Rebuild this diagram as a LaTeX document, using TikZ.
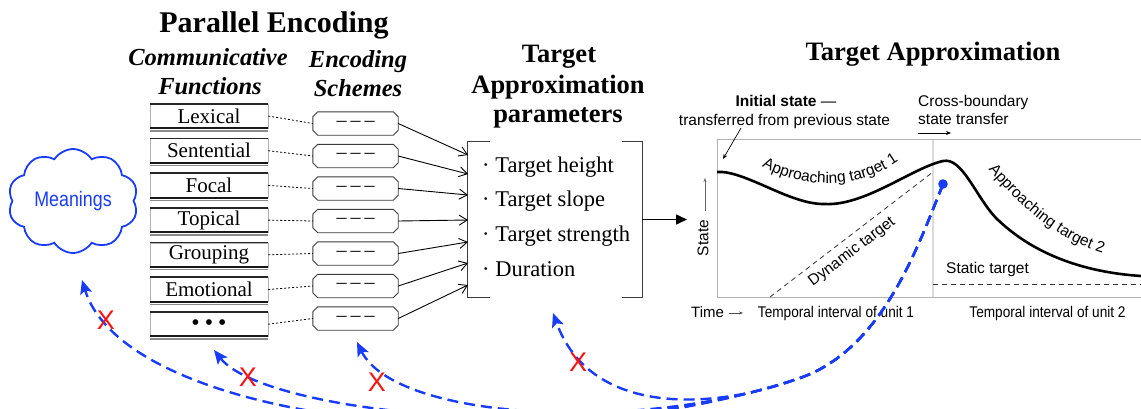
\documentclass[tikz,border=0pt]{standalone}
\usepackage{fontspec}
\setmainfont{Liberation Serif}
\newfontfamily\gsans{Liberation Sans}
\usetikzlibrary{arrows.meta,shapes.symbols,decorations.text}
\newcommand\setfs[1]{\fontsize{#1}{#1}\selectfont}
\definecolor{pblue}{RGB}{25,60,250}
\definecolor{xred}{RGB}{245,20,20}
\definecolor{framegray}{RGB}{178,178,178}
\definecolor{inkgray}{RGB}{60,60,60}
\begin{document}
\begin{tikzpicture}[x=1pt,y=-1pt,
  titlefont/.style={anchor=base,inner sep=0pt,font=\bfseries\setfs{#1}},
  headfont/.style={anchor=base,inner sep=0pt,font=\bfseries\itshape\setfs{24.5}},
  funcbox/.style={rectangle,minimum width=118pt,minimum height=24pt,inner sep=0pt,
    draw=black!30,line width=0.5pt,fill=white,font=\setfs{21}},
  schemebox/.style={rectangle,minimum width=85pt,minimum height=23pt,inner sep=0pt,font=\setfs{20}},
  schemeline/.style={draw=inkgray,line width=0.9pt,fill=white},
  dotline/.style={line width=0.8pt,dash pattern=on 2pt off 2pt},
  feed/.style={line width=0.9pt,-{Straight Barb[length=8pt,width=10pt]}},
  param/.style={anchor=base west,inner sep=0pt,font=\setfs{22.5}},
  glabel/.style={inner sep=0pt,font=\gsans\setfs{15.5}},
  smallarrow/.style={line width=0.7pt,-{Stealth[length=5pt,width=4pt]}},
  bluedash/.style={pblue,line width=2.4pt,dash pattern=on 11pt off 6pt,
    -{Stealth[length=14pt,width=12pt,inset=3pt]}},
  xmark/.style={inner sep=0pt,text=xred,font=\gsans\setfs{27}}]
\useasboundingbox (0,0) rectangle (1141,408);

% ---------- headings ----------
\node[titlefont=30] (tPE) at (274,32) {Parallel Encoding};
\node[headfont] (tCF1) at (208,65) {Communicative};
\node[headfont] (tCF2) at (210,94) {Functions};
\node[headfont] (tES1) at (358,67) {Encoding};
\node[headfont] (tES2) at (358,96) {Schemes};
\node[titlefont=26.5] (tTP1) at (559,62) {Target};
\node[titlefont=26.5] (tTP2) at (558,93) {Approximation};
\node[titlefont=26.5] (tTP3) at (558,122) {parameters};
\node[titlefont=26.6] (tTA) at (933,60) {Target Approximation};

% ---------- communicative functions ----------
\foreach \lab [count=\i] in {Lexical,Sentential,Focal,Topical,Grouping,Emotional,{\setfs{21}\textbf{•\hspace{6pt}•\hspace{6pt}•}}}{
  \node[funcbox] (f\i) at (209,{116+34.7*(\i-1)}) {\lab};
  \draw[black!85,line width=1.6pt] (f\i.north west) -- (f\i.north east);
  \draw[black!45,line width=1.4pt] ([yshift=-2.6pt]f\i.south west) -- ([yshift=-2.6pt]f\i.south east);
  \draw[black!90,line width=2pt] (f\i.south west) -- (f\i.south east);
}

% ---------- encoding schemes ----------
\foreach \i in {1,...,7}{
  \node[schemebox] (s\i) at (355.5,{123.5+32.5*(\i-1)}) {};
  \draw[schemeline] ([xshift=5pt]s\i.north west) -- ([xshift=-5pt]s\i.north east)
    -- ([yshift=-5pt]s\i.north east) -- ([yshift=5pt]s\i.south east)
    -- ([xshift=-5pt]s\i.south east) -- ([xshift=5pt]s\i.south west)
    -- ([yshift=5pt]s\i.south west) -- ([yshift=-5pt]s\i.north west) -- cycle;
  \node[schemebox] at (s\i) {–\hspace{4pt}–\hspace{4pt}–};
  \draw[dotline] (f\i.east) -- (s\i.west);
}

% ---------- target approximation parameters ----------
\node[minimum width=174pt,minimum height=155pt,inner sep=0pt] (tap) at (555,219.5) {};
\draw[inkgray,line width=1.2pt] ([xshift=22pt]tap.north west) -- (tap.north west)
  -- (tap.south west) -- ([xshift=22pt]tap.south west);
\draw[inkgray,line width=1.2pt] ([xshift=-20pt]tap.north east) -- (tap.north east)
  -- (tap.south east) -- ([xshift=-20pt]tap.south east);
\node[param] (p1) at (482,172) {· Target height};
\node[param] (p2) at (482,206.5) {· Target slope};
\node[param] (p3) at (482,241.5) {· Target strength};
\node[param] (p4) at (482,276.5) {· Duration};

\foreach \i/\y in {1/155,2/174,3/195,4/220,5/242,6/263,7/285}{
  \coordinate (in\i) at (468,\y);
  \draw[feed] (s\i.east) -- (in\i);
}

% ---------- target approximation plot ----------
\coordinate (gTL) at (717,139);
\coordinate (gBL) at (717,297);
\coordinate (gTR) at (1141,139);
\coordinate (gBR) at (1141,297);
\coordinate (divT) at (933,139);
\coordinate (divB) at (933,297);
\draw[black!14,line width=2pt] (divT) -- (divB);
\draw[framegray,line width=1pt] (gTR) -- (gTL) -- (gBL) -- (gBR);

\coordinate (gIn) at (687,219.5);
\draw[line width=1.5pt,-{Triangle[length=11pt,width=10pt]}] (tap.east) -- (gIn);

% dynamic and static targets
\coordinate (dynA) at (770,297);
\coordinate (dynB) at (933,172);
\draw[black!80,line width=0.8pt,dash pattern=on 5pt off 4pt] (dynA) -- (dynB);
\coordinate (statA) at (933,284);
\coordinate (statB) at (1141,284);
\draw[black!80,line width=0.8pt,dash pattern=on 5pt off 4pt] (statA) -- (statB);

% state trajectory
\coordinate (c0) at (717,172);
\draw[line width=2.6pt] (c0) .. controls (745,170) and (790,205) .. (825,204)
  .. controls (865,206) and (912,168) .. (943,161)
  .. controls (962,157) and (975,195) .. (995,217)
  .. controls (1030,252) and (1080,272) .. (1141,276);

\path[decorate,decoration={text along path,text align=center,
  text={|\gsans\setfs{15.5}|Approaching target 1}}]
  (756,163) .. controls (800,190) and (860,192) .. (904,157);
\path[decorate,decoration={text along path,text align=center,
  text={|\gsans\setfs{15.5}|Approaching target 2}}]
  (982,162) .. controls (1010,195) and (1050,240) .. (1112,256);
\node[glabel,rotate=37.3] (dynL) at (852,252) {Dynamic target};
\node[glabel,anchor=base west] (statL) at (946,273) {Static target};

\node[glabel,anchor=base] (init1) at (786,106) {\textbf{Initial state} —};
\node[glabel,anchor=base] (init2) at (784.5,125) {transferred from previous state};
\coordinate (initTip) at (723,159);
\draw[smallarrow] (741,128) -- (initTip);
\node[glabel,anchor=base west] (cb1) at (918,106) {Cross-boundary};
\node[glabel,anchor=base west] (cb2) at (918,124) {state transfer};
\coordinate (cbA) at (918,133);
\coordinate (cbB) at (951,133);
\draw[smallarrow] (cbA) -- (cbB);

\node[glabel,rotate=90] (stateL) at (703,238) {State};
\coordinate (stA) at (705,211);
\coordinate (stB) at (705,178);
\draw[black!60,line width=0.5pt,-{Stealth[length=4pt,width=3pt]}] (stA) -- (stB);
\node[glabel,anchor=base west,font=\gsans\setfs{15}] (timeL) at (691,317) {Time};
\coordinate (tmA) at (729,313);
\coordinate (tmB) at (743,313);
\draw[black!70,line width=0.5pt,-{Stealth[length=4pt,width=3pt]}] (tmA) -- (tmB);
\node[glabel,anchor=base] (u1) at (836,317) {\scalebox{0.88}[1]{Temporal interval of unit 1}};
\node[glabel,anchor=base] (u2) at (1047.5,317) {\scalebox{0.88}[1]{Temporal interval of unit 2}};

% ---------- meanings ----------
\node[cloud,cloud puffs=10,cloud puff arc=115,aspect=1.3,draw=pblue,line width=1.8pt,
  minimum width=130pt,minimum height=104pt,inner sep=0pt,text=pblue,
  font=\gsans\setfs{21}] (cloud) at (73,201) {\scalebox{0.85}[1]{Meanings}};

% ---------- blocked feedback paths ----------
\coordinate (dot) at (943,184);
\coordinate (J) at (800,378);
\coordinate (tipTA) at (553,313);
\coordinate (tipS) at (357,342);
\coordinate (tipF) at (214,350);
\coordinate (tipM) at (82,280);
\draw[bluedash] (dot) .. controls (915,255) and (880,350) .. (J)
  .. controls (720,408) and (592,420) .. (tipTA);
\draw[bluedash] (dot) .. controls (915,255) and (880,350) .. (J)
  .. controls (640,434) and (395,420) .. (tipS);
\draw[bluedash] (dot) .. controls (915,255) and (880,350) .. (J)
  .. controls (600,448) and (265,415) .. (tipF);
\draw[bluedash] (dot) .. controls (915,255) and (880,350) .. (J)
  .. controls (520,470) and (125,420) .. (tipM);
\fill[pblue] (dot) circle (4.8pt);

\node[xmark] (x1) at (106,320) {X};
\node[xmark] (x2) at (248,377) {X};
\node[xmark] (x3) at (377,382) {X};
\node[xmark] (x4) at (578,362) {X};
\end{tikzpicture}
\end{document}
